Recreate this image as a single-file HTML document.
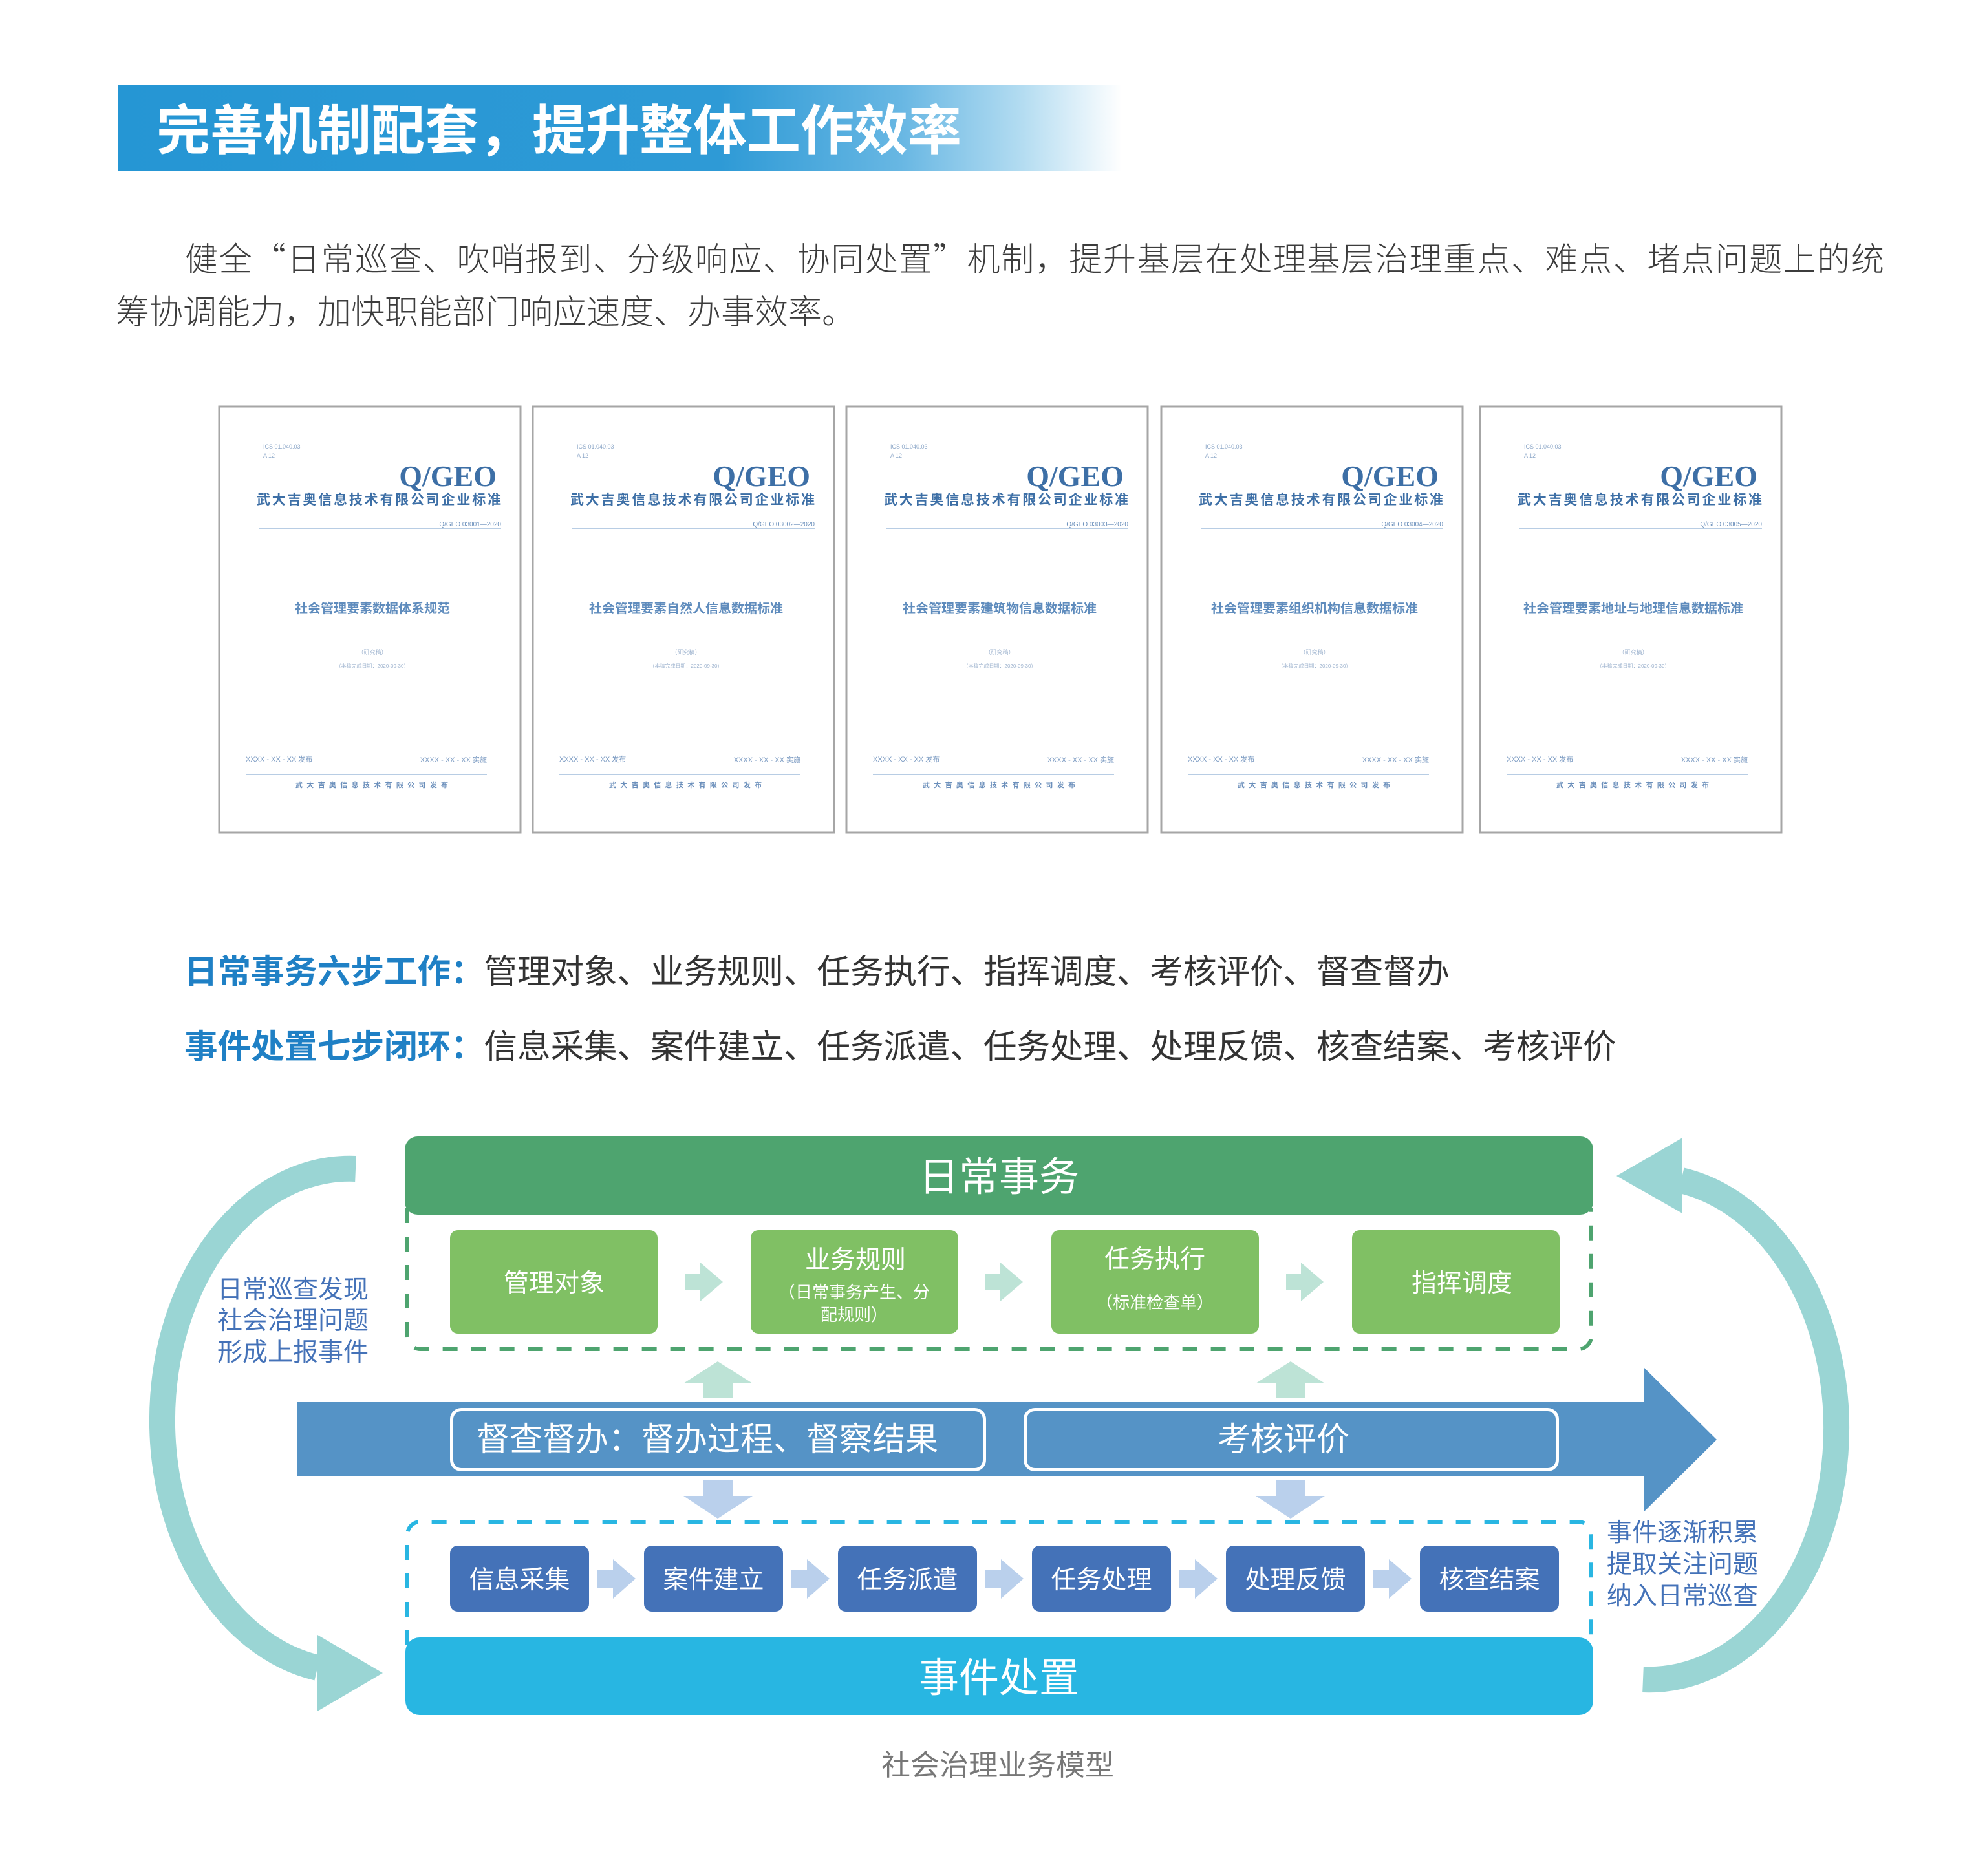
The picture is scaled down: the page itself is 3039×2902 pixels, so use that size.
<!DOCTYPE html>
<html><head><meta charset="utf-8">
<style>
html,body{margin:0;padding:0;background:#fff;}
svg{display:block;}
text{font-family:"Liberation Sans","Noto Sans CJK SC",sans-serif;}
.serif{font-family:"Liberation Serif","Noto Serif CJK SC",serif;}
.cjk{font-family:"Noto Sans CJK SC","Liberation Sans",sans-serif;font-feature-settings:"fwid" 1;}
</style></head>
<body>
<svg width="3039" height="2902" viewBox="0 0 3039 2902" xmlns="http://www.w3.org/2000/svg">
<defs>
<linearGradient id="hg" x1="0" y1="0" x2="1" y2="0">
<stop offset="0" stop-color="#2596d4"/>
<stop offset="0.6" stop-color="#2e9ad6"/>
<stop offset="0.78" stop-color="#68b7e3"/>
<stop offset="0.9" stop-color="#b3dcf1"/>
<stop offset="1" stop-color="#ffffff"/>
</linearGradient>
<g id="doc">
<rect x="0" y="0" width="466" height="659" fill="#fff" stroke="#a6a6a6" stroke-width="3"/>
<text x="68" y="65" font-size="9" fill="#8fa9c9">ICS 01.040.03</text>
<text x="68" y="79" font-size="9" fill="#8fa9c9">A 12</text>
<line x1="61" y1="189" x2="436" y2="189" stroke="#b8cde4" stroke-width="2"/>
<text x="237" y="383" font-size="9" fill="#9fb4cf" text-anchor="middle">（研究稿）</text>
<text x="237" y="404" font-size="8" fill="#9fb4cf" text-anchor="middle">（本稿完成日期：2020-09-30）</text>
<text x="41" y="549" font-size="11" fill="#7d9cc3">XXXX - XX - XX 发布</text>
<text x="414" y="550" font-size="11" fill="#7d9cc3" text-anchor="end">XXXX - XX - XX 实施</text>
<line x1="41" y1="569" x2="414" y2="569" stroke="#b8cde4" stroke-width="2"/>
<text x="118" y="589" font-size="11" font-weight="bold" fill="#6b8fbb" textLength="236" lengthAdjust="spacing">武大吉奥信息技术有限公司发布</text>
<text x="429" y="123" font-size="46" font-weight="bold" fill="#3d6fa6" text-anchor="end" class="serif">Q/GEO</text>
<text x="58" y="151" font-size="21" font-weight="bold" fill="#3d6fa6" textLength="378" lengthAdjust="spacing">武大吉奥信息技术有限公司企业标准</text>
</g>
</defs>

<!-- Title bar -->
<rect x="182" y="131" width="1553" height="134" fill="url(#hg)"/>
<text x="242" y="231" font-size="83" font-weight="bold" fill="#fff">完善机制配套，提升整体工作效率</text>

<!-- Paragraph -->
<text class="cjk" x="286" y="419" font-size="51" font-weight="300" fill="#3c3c3c" textLength="2628" lengthAdjust="spacing">健全“日常巡查、吹哨报到、分级响应、协同处置”机制，提升基层在处理基层治理重点、难点、堵点问题上的统</text>
<text class="cjk" x="179" y="501" font-size="52" font-weight="300" fill="#3c3c3c">筹协调能力，加快职能部门响应速度、办事效率。</text>

<!-- Documents -->
<g transform="translate(339,629)"><use href="#doc"/>
<text x="436" y="185" font-size="10" fill="#6a8fbb" text-anchor="end">Q/GEO 03001—2020</text>
<text x="237" y="319" font-size="20" font-weight="bold" fill="#5f8cbd" text-anchor="middle">社会管理要素数据体系规范</text></g>
<g transform="translate(824,629)"><use href="#doc"/>
<text x="436" y="185" font-size="10" fill="#6a8fbb" text-anchor="end">Q/GEO 03002—2020</text>
<text x="237" y="319" font-size="20" font-weight="bold" fill="#5f8cbd" text-anchor="middle">社会管理要素自然人信息数据标准</text></g>
<g transform="translate(1309,629)"><use href="#doc"/>
<text x="436" y="185" font-size="10" fill="#6a8fbb" text-anchor="end">Q/GEO 03003—2020</text>
<text x="237" y="319" font-size="20" font-weight="bold" fill="#5f8cbd" text-anchor="middle">社会管理要素建筑物信息数据标准</text></g>
<g transform="translate(1796,629)"><use href="#doc"/>
<text x="436" y="185" font-size="10" fill="#6a8fbb" text-anchor="end">Q/GEO 03004—2020</text>
<text x="237" y="319" font-size="20" font-weight="bold" fill="#5f8cbd" text-anchor="middle">社会管理要素组织机构信息数据标准</text></g>
<g transform="translate(2289,629)"><use href="#doc"/>
<text x="436" y="185" font-size="10" fill="#6a8fbb" text-anchor="end">Q/GEO 03005—2020</text>
<text x="237" y="319" font-size="20" font-weight="bold" fill="#5f8cbd" text-anchor="middle">社会管理要素地址与地理信息数据标准</text></g>

<!-- Section 2 text -->
<text x="285" y="1521" font-size="51.5" fill="#333"><tspan font-weight="bold" fill="#1f80c5">日常事务六步工作：</tspan>管理对象、业务规则、任务执行、指挥调度、考核评价、督查督办</text>
<text x="285" y="1637" font-size="51.5" fill="#333"><tspan font-weight="bold" fill="#1f80c5">事件处置七步闭环：</tspan>信息采集、案件建立、任务派遣、任务处理、处理反馈、核查结案、考核评价</text>

<!-- Side arcs -->
<path d="M 550 1808 A 290 389 0 0 0 491 2580" fill="none" stroke="#9ad5d4" stroke-width="40"/>
<polygon points="491,2529 592,2588 491,2647" fill="#9ad5d4"/>
<path d="M 2600 1826 A 290 389 0 0 1 2541 2598" fill="none" stroke="#9ad5d4" stroke-width="40"/>
<polygon points="2602,1760 2500,1819 2602,1877" fill="#9ad5d4"/>

<text font-size="39" fill="#4472b8">
<tspan x="336" y="2008">日常巡查发现</tspan>
<tspan x="336" y="2056">社会治理问题</tspan>
<tspan x="336" y="2105">形成上报事件</tspan>
</text>
<text font-size="39" fill="#4472b8">
<tspan x="2485" y="2384">事件逐渐积累</tspan>
<tspan x="2485" y="2433">提取关注问题</tspan>
<tspan x="2485" y="2482">纳入日常巡查</tspan>
</text>

<!-- Dashed boxes -->
<path d="M 630 1869 V 2067 A 20 20 0 0 0 650 2087 H 2441 A 20 20 0 0 0 2461 2067 V 1869" fill="none" stroke="#4ea46f" stroke-width="6" stroke-dasharray="23 21"/>
<path d="M 630 2545 V 2374 A 20 20 0 0 1 650 2354 H 2441 A 20 20 0 0 1 2461 2374 V 2545" fill="none" stroke="#29b6e2" stroke-width="6" stroke-dasharray="23 21"/>

<!-- Green header -->
<rect x="626" y="1758" width="1838" height="121" rx="20" fill="#4ea46f"/>
<text x="1545" y="1842" font-size="62" fill="#fff" text-anchor="middle">日常事务</text>

<!-- Green boxes -->
<rect x="696" y="1903" width="321" height="160" rx="12" fill="#80c064"/>
<rect x="1161" y="1903" width="321" height="160" rx="12" fill="#80c064"/>
<rect x="1626" y="1903" width="321" height="160" rx="12" fill="#80c064"/>
<rect x="2091" y="1903" width="321" height="160" rx="12" fill="#80c064"/>
<text x="857" y="1998" font-size="39" fill="#fff" text-anchor="middle">管理对象</text>
<text x="1323" y="1962" font-size="39" fill="#fff" text-anchor="middle">业务规则</text>
<text x="1321" y="2008" font-size="26" fill="#fff" text-anchor="middle">（日常事务产生、分</text>
<text x="1321" y="2043" font-size="26" fill="#fff" text-anchor="middle">配规则）</text>
<text x="1786" y="1961" font-size="39" fill="#fff" text-anchor="middle">任务执行</text>
<text x="1786" y="2024" font-size="26" fill="#fff" text-anchor="middle">（标准检查单）</text>
<text x="2261" y="1998" font-size="39" fill="#fff" text-anchor="middle">指挥调度</text>

<!-- Green arrows -->
<polygon points="1060,1970 1083,1970 1083,1953 1118,1983 1083,2013 1083,1996 1060,1996" fill="#bde3d6"/>
<polygon points="1524,1970 1547,1970 1547,1953 1582,1983 1547,2013 1547,1996 1524,1996" fill="#bde3d6"/>
<polygon points="1989,1970 2012,1970 2012,1953 2047,1983 2012,2013 2012,1996 1989,1996" fill="#bde3d6"/>

<!-- Up arrows -->
<polygon points="1088,2163 1088,2140 1057,2140 1110,2106 1164,2140 1133,2140 1133,2163" fill="#bde3d6"/>
<polygon points="1973,2163 1973,2140 1942,2140 1996,2106 2049,2140 2018,2140 2018,2163" fill="#bde3d6"/>

<!-- Big blue arrow -->
<rect x="459" y="2168" width="2085" height="116" fill="#5593c6"/>
<polygon points="2543,2116 2655,2227 2543,2338" fill="#5593c6"/>
<rect x="698.5" y="2180.5" width="824" height="93" rx="15" fill="none" stroke="#fff" stroke-width="5"/>
<rect x="1585.5" y="2180.5" width="823" height="93" rx="15" fill="none" stroke="#fff" stroke-width="5"/>
<text x="737" y="2244" font-size="51" fill="#fff">督查督办：督办过程、督察结果</text>
<text x="1985" y="2244" font-size="51" fill="#fff" text-anchor="middle">考核评价</text>

<!-- Down arrows -->
<polygon points="1088,2290 1133,2290 1133,2314 1164,2314 1110,2349 1057,2314 1088,2314" fill="#bad0ec"/>
<polygon points="1973,2290 2018,2290 2018,2314 2049,2314 1996,2349 1942,2314 1973,2314" fill="#bad0ec"/>

<!-- Blue boxes -->
<g fill="#4472b8">
<rect x="696" y="2391" width="215" height="102" rx="12"/>
<rect x="996" y="2391" width="215" height="102" rx="12"/>
<rect x="1296" y="2391" width="215" height="102" rx="12"/>
<rect x="1596" y="2391" width="215" height="102" rx="12"/>
<rect x="1896" y="2391" width="215" height="102" rx="12"/>
<rect x="2196" y="2391" width="215" height="102" rx="12"/>
</g>
<g font-size="39" fill="#fff" text-anchor="middle">
<text x="803.5" y="2457">信息采集</text>
<text x="1103.5" y="2457">案件建立</text>
<text x="1403.5" y="2457">任务派遣</text>
<text x="1703.5" y="2457">任务处理</text>
<text x="2003.5" y="2457">处理反馈</text>
<text x="2303.5" y="2457">核查结案</text>
</g>
<g fill="#bad0ec">
<polygon points="924,2429 948,2429 948,2412 983,2442 948,2473 948,2456 924,2456"/>
<polygon points="1224,2429 1248,2429 1248,2412 1283,2442 1248,2473 1248,2456 1224,2456"/>
<polygon points="1524,2429 1548,2429 1548,2412 1583,2442 1548,2473 1548,2456 1524,2456"/>
<polygon points="1824,2429 1848,2429 1848,2412 1883,2442 1848,2473 1848,2456 1824,2456"/>
<polygon points="2124,2429 2148,2429 2148,2412 2183,2442 2148,2473 2148,2456 2124,2456"/>
</g>

<!-- Cyan bar -->
<rect x="627" y="2533" width="1837" height="120" rx="22" fill="#28b6e2"/>
<text x="1545" y="2617" font-size="62" fill="#fff" text-anchor="middle">事件处置</text>

<!-- Caption -->
<text x="1543" y="2746" font-size="45" fill="#777" text-anchor="middle">社会治理业务模型</text>
</svg>
</body></html>
